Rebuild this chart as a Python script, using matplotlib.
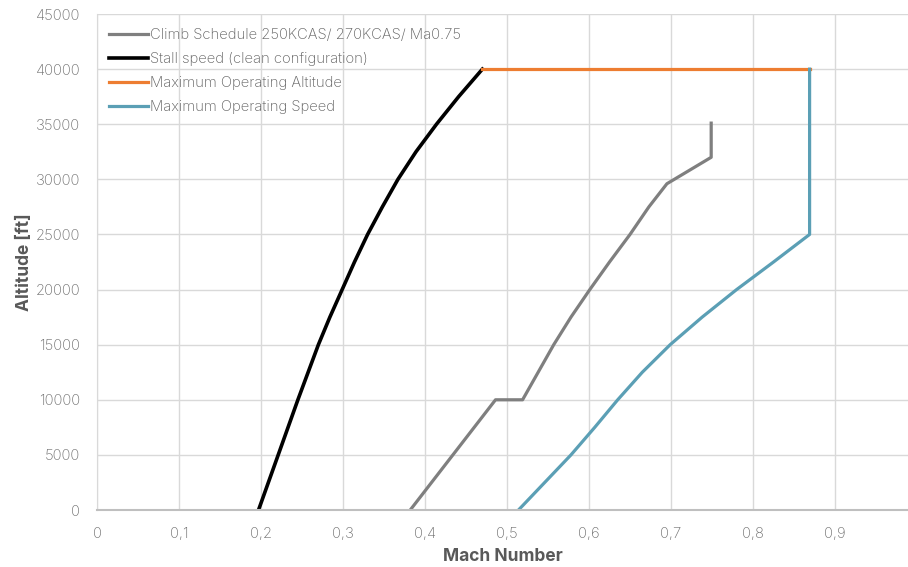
import matplotlib
matplotlib.use("Agg")
import matplotlib.pyplot as plt
from matplotlib.ticker import MultipleLocator, FuncFormatter

# Flight envelope data (Mach number vs. altitude in ft)
climb_mach = [0.382, 0.486, 0.519, 0.538, 0.557, 0.578, 0.601, 0.625, 0.650,
              0.673, 0.695, 0.749, 0.749]
climb_alt = [0, 10000, 10000, 12500, 15000, 17500, 20000, 22500, 25000,
             27500, 29600, 32000, 35100]

stall_mach = [0.197, 0.221, 0.245, 0.270, 0.284, 0.299, 0.314, 0.330, 0.348,
              0.367, 0.389, 0.414, 0.441, 0.470]
stall_alt = [0, 5000, 10000, 15000, 17500, 20000, 22500, 25000, 27500,
             30000, 32500, 35000, 37500, 40000]

max_alt_mach = [0.470, 0.869]
max_alt_alt = [40000, 40000]

mmo_mach = [0.514, 0.546, 0.578, 0.607, 0.635, 0.665, 0.699, 0.738, 0.780,
            0.825, 0.869, 0.869]
mmo_alt = [0, 2500, 5000, 7500, 10000, 12500, 15000, 17500, 20000,
           22500, 25000, 40000]

labels = [
    "Climb Schedule 250KCAS/ 270KCAS/ Ma0.75",
    "Stall speed (clean configuration)",
    "Maximum Operating Altitude",
    "Maximum Operating Speed",
]
colors = ["#7f7f7f", "#000000", "#ED7D31", "#5B9FB5"]

plt.rcParams["font.family"] = ["Inter", "DejaVu Sans"]

fig = plt.figure(figsize=(9.08, 5.67), dpi=100)
ax = fig.add_axes([0.1068, 0.1005, 0.8932, 0.8748])

ax.plot(climb_mach, climb_alt, color=colors[0], lw=2.3, label=labels[0])
ax.plot(stall_mach, stall_alt, color=colors[1], lw=2.6, label=labels[1])
ax.plot(max_alt_mach, max_alt_alt, color=colors[2], lw=2.3, label=labels[2])
ax.plot(mmo_mach, mmo_alt, color=colors[3], lw=2.3, label=labels[3])

ax.set_xlim(0, 0.989)
ax.set_ylim(0, 45000)
ax.xaxis.set_major_locator(MultipleLocator(0.1))
ax.yaxis.set_major_locator(MultipleLocator(5000))
ax.xaxis.set_major_formatter(FuncFormatter(lambda v, p: f"{v:.1f}".replace(".", ",") if v > 1e-9 else "0"))
ax.yaxis.set_major_formatter(FuncFormatter(lambda v, p: f"{int(round(v))}"))

ax.grid(True, color="#d9d9d9", lw=1.0)
ax.set_axisbelow(True)
for s in ["top", "right"]:
    ax.spines[s].set_visible(False)
ax.spines["left"].set_color("#d9d9d9")
ax.spines["bottom"].set_color("#bfbfbf")
ax.spines["bottom"].set_linewidth(1.5)
ax.tick_params(length=0, colors="#707070", labelsize=10.7, pad=12)
for lab in ax.get_xticklabels() + ax.get_yticklabels():
    lab.set_fontweight("light")

ax.set_xlabel("Mach Number", fontsize=12.5, fontweight="bold", color="#595959", labelpad=5)
ax.set_ylabel("Altitude [ft]", fontsize=12.5, fontweight="bold", color="#595959", labelpad=2)

leg = ax.legend(loc="upper left", bbox_to_anchor=(0.0, 0.995), frameon=False,
                fontsize=10.7, handlelength=2.65, handletextpad=0.1,
                labelspacing=0.66, borderaxespad=0.2, borderpad=0.6)
for t in leg.get_texts():
    t.set_color("#606060")
    t.set_fontweight("light")

fig.savefig("out.png", dpi=100)
